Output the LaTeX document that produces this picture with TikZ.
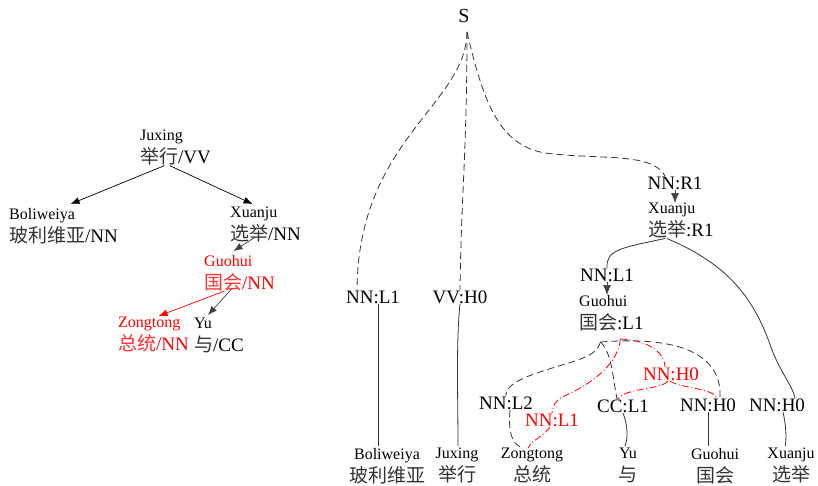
\documentclass[tikz,border=0pt]{standalone}
\usepackage{fontspec}
\setmainfont{Liberation Serif}
\newfontfamily\cjk{Noto Sans CJK SC}
\usetikzlibrary{arrows.meta}

\newcommand{\zh}[1]{{\fontsize{19}{23}\selectfont\cjk\color{.!80} #1}}
\newcommand{\tg}[1]{{\fontsize{19}{23}\selectfont #1}}

\tikzset{
  word/.style={inner sep=0pt, align=center, anchor=north, font=\fontsize{16}{23}\selectfont},
  lword/.style={word, align=left, anchor=north west},
  tag/.style={inner sep=0.5pt, font=\fontsize{19}{23}\selectfont},
  arc/.style={-{Latex[length=9pt,width=7pt]}, line width=0.7pt},
  garc/.style={arc, black!75},
  link/.style={dash pattern=on 7pt off 4pt, line width=0.8pt, black!80},
  rlink/.style={red, dash pattern=on 7pt off 2.5pt on 1pt off 2.5pt, line width=0.8pt},
  attach/.style={line width=0.8pt, black!80, shorten >=2pt}
}

\begin{document}
\begin{tikzpicture}[x=1pt,y=-1pt]
    \useasboundingbox (0,0) rectangle (818,485);

    % Dependency tree (left)
    \node[lword] (juxL) at (140,130) {Juxing\\\zh{举行}\tg{/VV}};
    \node[lword] (bolL) at (9,208) {Boliweiya\\\zh{玻利维亚}\tg{/NN}};
    \node[lword] (xuanL) at (230,207) {Xuanju\\\zh{选举}\tg{/NN}};
    \node[lword, red] (guoL) at (204,255) {Guohui\\\zh{国会}\tg{/NN}};
    \node[lword, red] (zongL) at (118,317) {Zongtong\\\zh{总统}\tg{/NN}};
    \node[lword] (yuL) at (194,318) {Yu\\\zh{与}\tg{/CC}};

    \draw[arc] ([xshift=-11pt]juxL.south) -- ([xshift=7pt,yshift=4pt]bolL.north);
    \draw[arc] ([xshift=-6pt]juxL.south) -- ([xshift=-13pt,yshift=3pt]xuanL.north);
    \draw[garc] ([xshift=-11pt,yshift=5pt]xuanL.south) -- ([xshift=-6pt,yshift=4pt]guoL.north);
    \draw[arc, red] ([xshift=-15pt]guoL.south) -- ([xshift=5pt,yshift=1pt]zongL.north);
    \draw[garc] ([xshift=-8pt,yshift=2pt]guoL.south) -- ([xshift=-11pt,yshift=3pt]yuL.north);

    % Phrase tree (right)
    \node[tag, inner sep=0pt, font=\fontsize{20}{23}\selectfont] (s) at (464,16) {S};
    \node[tag] (nnL1a) at (373,297) {NN:L1};
    \node[tag] (vvH0) at (460,297) {VV:H0};
    \node[tag] (nnR1) at (675,183) {NN:R1};
    \node[lword] (xuanR) at (648,203) {Xuanju\\\zh{选举}\tg{:R1}};
    \node[tag] (nnL1b) at (607,275) {NN:L1};
    \node[lword] (guoR) at (579,295) {Guohui\\\zh{国会}\tg{:L1}};
    \node[tag] (nnL2) at (506,403) {NN:L2};
    \node[tag, red] (nnL1r) at (552,420) {NN:L1};
    \node[tag] (ccL1) at (623,406) {CC:L1};
    \node[tag, red] (nnH0r) at (671,374) {NN:H0};
    \node[tag] (nnH0b) at (708,405) {NN:H0};
    \node[tag] (nnH0c) at (777,405) {NN:H0};

    % words
    \node[word] (bolW) at (387,448) {Boliweiya\\\zh{玻利维亚}};
    \node[word] (juxW) at (457,448) {Juxing\\\zh{举行}};
    \node[word] (zongW) at (532,448) {Zongtong\\\zh{总统}};
    \node[word] (yuW) at (628,448) {Yu\\\zh{与}};
    \node[word] (guoW) at (715,448) {Guohui\\\zh{国会}};
    \node[word] (xuanW) at (791,448) {Xuanju\\\zh{选举}};

    \coordinate (top) at ([xshift=3pt,yshift=-9pt]s.south);
    \coordinate (gj) at ([xshift=-11pt,yshift=-11pt]guoR.south);
    \coordinate (rj) at ([xshift=9pt,yshift=-8pt]guoR.south);

    \draw[link] (top) .. controls (466,105) and (358,140) .. ([xshift=-16pt]nnL1a.north);
    \draw[link] (top) .. controls (467,150) and (461,200) .. (vvH0.north);
    \draw[link] (top) .. controls (484,105) and (500,145) .. (545,153)
        .. controls (600,160) and (652,152) .. ([xshift=-10pt]nnR1.north);

    \draw[garc, -{Latex[length=10pt,width=8pt]}] (nnR1.south) -- (nnR1.south |- xuanR.north);
    \draw[attach, shorten >=0pt] ([xshift=-16pt]xuanR.south) .. controls (620,248) and (606,250) .. (nnL1b.north);
    \draw[attach, shorten >=0pt] ([xshift=-14pt]xuanR.south) .. controls (730,265) and (755,300) .. (772,350)
        .. controls (782,375) and (792,385) .. ([xshift=18pt]nnH0c.north);
    \draw[garc, -{Latex[length=10pt,width=8pt]}] (nnL1b.south) -- (nnL1b.south |- guoR.north);

    % dashed links under Guohui
    \draw[link] (gj) .. controls (690,335) and (722,360) .. ([xshift=12pt]nnH0b.north);
    \draw[link] (gj) .. controls (596,358) and (575,360) .. (540,372)
        .. controls (515,380) and (505,388) .. (nnL2.north);
    \draw[link] (gj) .. controls (612,352) and (613,380) .. ([xshift=-6pt]ccL1.north);
    \draw[link] ([xshift=4pt]nnL2.south) .. controls (508,432) and (512,446) .. ([xshift=-8pt]zongW.north);

    % red links
    \draw[rlink] (rj) .. controls (618,365) and (590,385) .. (562,397)
        .. controls (555,401) and (553,406) .. (nnL1r.north);
    \draw[rlink] ([xshift=-2pt]nnL1r.south) .. controls (545,435) and (532,440) .. ([xshift=-4pt]zongW.north);
    \draw[rlink] (rj) .. controls (645,340) and (664,350) .. ([xshift=-6pt]nnH0r.north);
    \draw[rlink] ([xshift=-3pt]nnH0r.south) .. controls (660,390) and (625,388) .. ([xshift=-5pt]ccL1.north);
    \draw[rlink] ([xshift=-1pt]nnH0r.south) .. controls (680,388) and (712,388) .. ([xshift=9pt]nnH0b.north);

    % attachments to words
    \draw[attach] ([xshift=5pt]nnL1a.south) -- ([xshift=-9pt]bolW.north);
    \draw[attach] (vvH0.south) .. controls (456,340) and (458,400) .. ([xshift=1pt]juxW.north);
    \draw[attach] (ccL1.south) .. controls (628,425) and (628,440) .. ([xshift=-4pt]yuW.north);
    \draw[attach] (nnH0b.south) -- (nnH0b.south |- guoW.north);
    \draw[attach] ([xshift=6pt]nnH0c.south) .. controls (787,430) and (786,440) .. ([xshift=-6pt]xuanW.north);
\end{tikzpicture}
\end{document}
